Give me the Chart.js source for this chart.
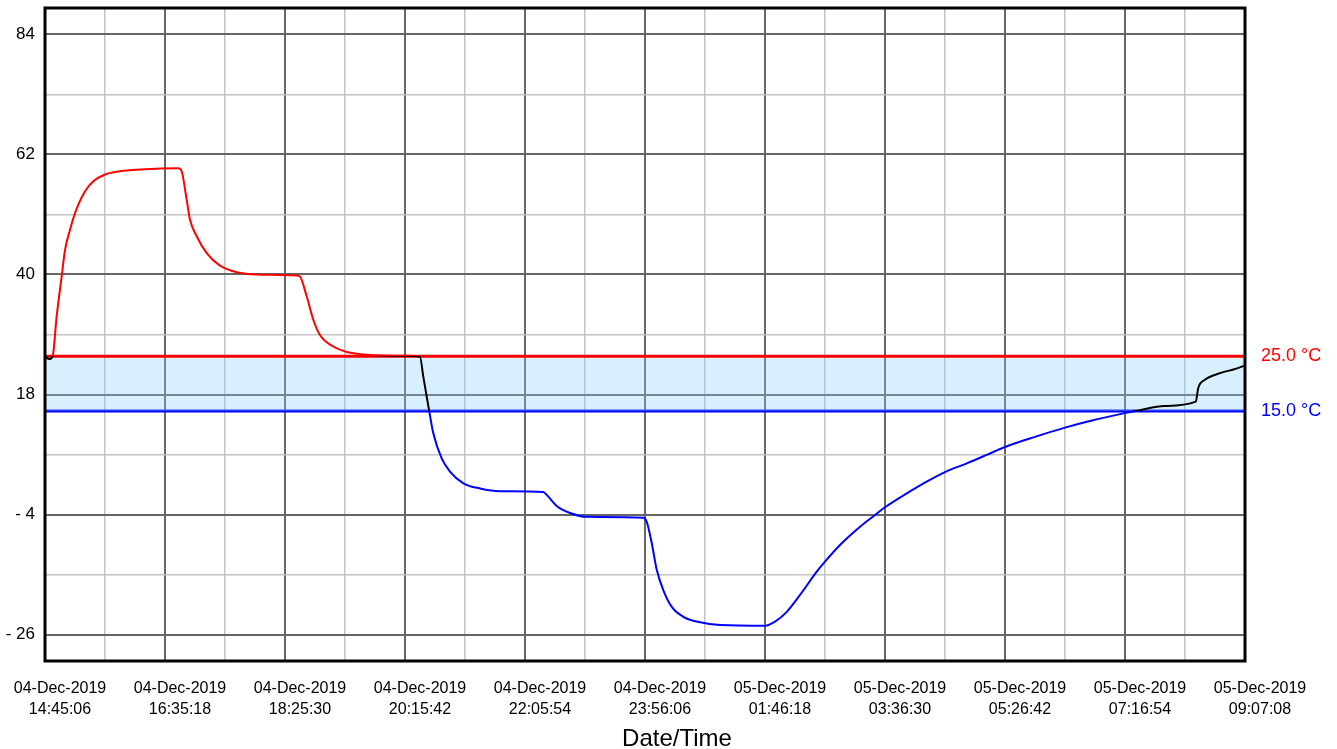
<!DOCTYPE html>
<html>
<head>
<meta charset="utf-8">
<script src="https://cdn.jsdelivr.net/npm/chart.js@4/dist/chart.umd.min.js"></script>
<style>
  body { margin: 0; background: #fff; }
  #wrap { width: 1337px; height: 749px; }
</style>
</head>
<body>
<div id="wrap"><canvas id="tempChart"></canvas></div>
<script>
// elapsed minutes since 04-Dec-2019 14:45:06, and logged temperature (°C)
const timeMinutes = [0, 3.9, 7.1, 10.7, 15.3, 18.4, 23.0, 26.0, 30.6, 36.7, 44.4, 55.1, 68.9, 87.2, 122.4,
  125.5, 130.1, 133.2, 139.3, 148.5, 160.7, 176.1, 194.4, 231.2, 234.2, 240.3, 246.4, 252.5, 264.8,
  277.1, 295.4, 332.2, 344.4, 347.4, 352.9, 356.6, 364.3, 371.9, 384.2, 399.5, 417.9, 457.6, 462.2,
  469.9, 482.2, 497.5, 549.5, 552.6, 557.2, 561.8, 567.8, 575.6, 586.2, 601.5, 619.9, 661.2, 670.4,
  681.2, 693.4, 708.7, 716.3, 730.1, 748.5, 762.3, 771.4, 791.4, 809.7, 826.5, 846.5, 864.8, 881.6,
  909.8, 936.8, 960.5, 991.6, 1004.4, 1028.0, 1056.8, 1059.1, 1065.2, 1078.7, 1092.2, 1101.7];
const temperature = [25.0, 24.5, 25.1, 32.3, 39.6, 44.5, 48.2, 50.3, 52.8, 55.2, 57.05, 58.3, 58.9, 59.2, 59.45,
  58.9, 53.7, 50.0, 47.0, 43.9, 41.6, 40.4, 40.0, 39.8, 39.6, 36.0, 31.7, 28.9, 26.8,
  25.8, 25.3, 25.1, 24.9, 21.3, 14.9, 10.9, 6.3, 3.9, 1.75, 0.8, 0.3, 0.16, -0.7,
  -2.4, -3.7, -4.4, -4.55, -5.3, -9.2, -14.1, -17.8, -20.9, -22.7, -23.7, -24.2, -24.35, -23.6,
  -21.8, -18.7, -14.45, -12.6, -9.55, -6.2, -4.05, -2.65, -0.1, 2.05, 3.8, 5.4, 6.95, 8.4,
  10.3, 11.95, 13.2, 14.6, 15.1, 15.9, 16.7, 19.2, 20.7, 21.9, 22.65, 23.3];

const upperLimit = 25;
const lowerLimit = 15;
const limitLabels = ['25.0 °C', '15.0 °C'];

const xTickLabels = [
  ['04-Dec-2019', '14:45:06'], ['04-Dec-2019', '16:35:18'], ['04-Dec-2019', '18:25:30'],
  ['04-Dec-2019', '20:15:42'], ['04-Dec-2019', '22:05:54'], ['04-Dec-2019', '23:56:06'],
  ['05-Dec-2019', '01:46:18'], ['05-Dec-2019', '03:36:30'], ['05-Dec-2019', '05:26:42'],
  ['05-Dec-2019', '07:16:54'], ['05-Dec-2019', '09:07:08']
];
const yTickValues = [-26, -4, 18, 40, 62, 84];

const totalMinutes = 1102.03;
const yMin = -30.8, yMax = 88.8;
const FONT = '"Liberation Sans", Arial, sans-serif';

const RED = '#ff0000', BLUE = '#0000ff', BAND = 'rgba(135, 206, 250, 0.32)';
const MAJOR = '#666666', MINOR = '#c4c4c4';

const points = timeMinutes.map((t, i) => ({ x: t, y: temperature[i] }));
const flat = v => [{ x: 0, y: v }, { x: totalMinutes, y: v }];

// red above upper limit, black in between, blue below lower limit
function lineColor(ctx) {
  const chart = ctx.chart;
  const area = chart.chartArea;
  if (!area) return '#000';
  const y = chart.scales.y;
  const g = chart.ctx.createLinearGradient(0, area.top, 0, area.bottom);
  const f = v => Math.min(1, Math.max(0, (y.getPixelForValue(v) - area.top) / (area.bottom - area.top)));
  const a = f(upperLimit), b = f(lowerLimit);
  g.addColorStop(0, RED); g.addColorStop(a, RED);
  g.addColorStop(a, '#000'); g.addColorStop(b, '#000');
  g.addColorStop(b, BLUE); g.addColorStop(1, BLUE);
  return g;
}

const extras = {
  id: 'extras',
  afterDraw(chart) {
    const { ctx, chartArea: a, scales } = chart;
    ctx.save();
    ctx.strokeStyle = '#000';
    ctx.lineWidth = 3;
    ctx.strokeRect(a.left, a.top, a.right - a.left, a.bottom - a.top);

    ctx.font = '18px ' + FONT;
    ctx.textAlign = 'left';
    ctx.textBaseline = 'middle';
    ctx.fillStyle = RED;
    ctx.fillText(limitLabels[0], a.right + 16, scales.y.getPixelForValue(upperLimit));
    ctx.fillStyle = BLUE;
    ctx.fillText(limitLabels[1], a.right + 16, scales.y.getPixelForValue(lowerLimit));

    ctx.fillStyle = '#000';
    ctx.font = '24px ' + FONT;
    ctx.textAlign = 'center';
    ctx.fillText('Date/Time', 677, 739);
    ctx.restore();
  }
};

new Chart(document.getElementById('tempChart'), {
  type: 'line',
  data: {
    datasets: [
      {
        data: points,
        borderColor: lineColor,
        borderWidth: 2,
        pointRadius: 0,
        cubicInterpolationMode: 'monotone',
        fill: false
      },
      {
        data: flat(upperLimit),
        borderColor: RED,
        borderWidth: 3,
        pointRadius: 0,
        fill: '+1',
        backgroundColor: BAND
      },
      {
        data: flat(lowerLimit),
        borderColor: BLUE,
        borderWidth: 3,
        pointRadius: 0,
        fill: false
      }
    ]
  },
  options: {
    responsive: true,
    maintainAspectRatio: false,
    animation: false,
    layout: { padding: { top: 8, right: 92, left: 0, bottom: 0 } },
    plugins: { legend: { display: false }, tooltip: { enabled: false } },
    scales: {
      x: {
        type: 'linear',
        min: 0,
        max: totalMinutes,
        afterBuildTicks: s => {
          s.ticks = [];
          for (let k = 0; k <= 20; k++) s.ticks.push({ value: totalMinutes * k / 20 });
        },
        afterFit: s => { s.height = 88; s.paddingLeft = 0; s.paddingRight = 0; },
        grid: {
          drawTicks: false,
          color: c => (c.index % 2 === 0 ? MAJOR : MINOR),
          lineWidth: c => (c.index % 2 === 0 ? 2 : 1.5)
        },
        border: { display: false },
        ticks: {
          autoSkip: false,
          maxRotation: 0,
          padding: 17,
          labelOffset: 15,
          color: '#000',
          font: { family: FONT, size: 16, lineHeight: 1.3 },
          callback: (v, i) => (i % 2 === 0 ? xTickLabels[i / 2] : '')
        }
      },
      y: {
        min: yMin,
        max: yMax,
        afterBuildTicks: s => {
          s.ticks = [];
          for (let k = 0; k <= 10; k++) s.ticks.push({ value: yTickValues[0] + 11 * k });
        },
        afterFit: s => { s.width = 45; s.paddingTop = 0; s.paddingBottom = 0; },
        grid: {
          drawTicks: false,
          color: c => (c.index % 2 === 0 ? MAJOR : MINOR),
          lineWidth: c => (c.index % 2 === 0 ? 2 : 1.5)
        },
        border: { display: false },
        ticks: {
          autoSkip: false,
          padding: 10,
          color: '#000',
          font: { family: FONT, size: 17 },
          callback: (v, i) => {
            if (i % 2 !== 0) return '';
            return v < 0 ? '- ' + Math.abs(v) : String(v);
          }
        }
      }
    }
  },
  plugins: [extras]
});
</script>
</body>
</html>
